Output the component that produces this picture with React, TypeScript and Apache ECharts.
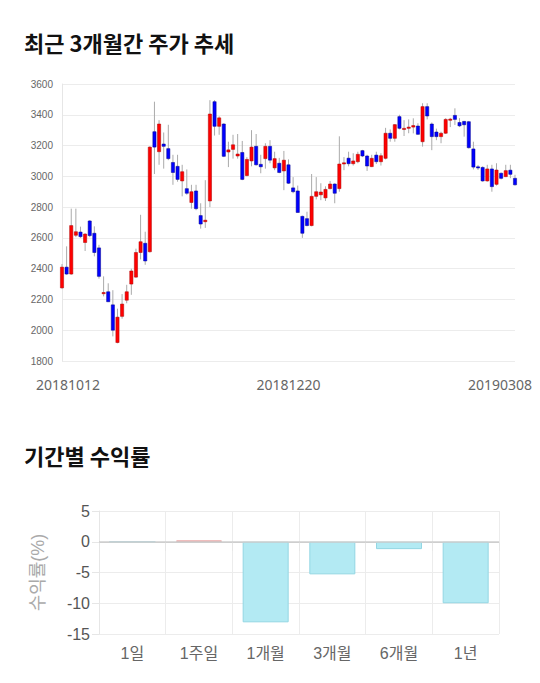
import React, { useEffect, useRef } from "react";
import * as echarts from "echarts";

const dates: string[] = [
  "20181012","20181015","20181016","20181017","20181018","20181019","20181022","20181023","20181024","20181025","20181026","20181029","20181030","20181031",
  "20181101","20181102","20181105","20181106","20181107","20181108","20181109","20181112","20181113","20181114","20181115","20181116","20181119","20181120","20181121","20181122","20181123","20181126","20181127","20181128","20181129","20181130",
  "20181203","20181204","20181205","20181206","20181207","20181210","20181211","20181212","20181213","20181214","20181217","20181218","20181219","20181220","20181221","20181224","20181226","20181227","20181228",
  "20190102","20190103","20190104","20190107","20190108","20190109","20190110","20190111","20190114","20190115","20190116","20190117","20190118","20190121","20190122","20190123","20190124","20190125","20190128","20190129","20190130","20190131",
  "20190201","20190207","20190208","20190211","20190212","20190213","20190214","20190215","20190218","20190219","20190220","20190221","20190222","20190225","20190226","20190227","20190228",
  "20190304","20190305","20190306","20190307","20190308",
];

const shownDates: string[] = ["20181012", "20181220", "20190308"];

// [open, close, low, high]
const ohlc: number[][] = [
  [2275,2410,2270,2430],[2410,2365,2360,2545],[2365,2680,2360,2790],[2617,2640,2605,2790],[2638,2608,2600,2673],
  [2570,2625,2515,2630],[2710,2615,2605,2715],[2630,2505,2480,2675],[2535,2350,2335,2555],[2240,2245,2220,2350],
  [2250,2185,2185,2305],[2165,2000,1960,2260],[1920,2085,1915,2140],[2090,2170,2075,2235],[2195,2250,2175,2295],
  [2300,2385,2230,2400],[2345,2505,2340,2530],[2505,2575,2460,2750],[2565,2450,2425,2640],[2510,3190,2505,3195],
  [3290,3190,3015,3485],[3160,3340,3075,3365],[3210,3195,3050,3285],[3180,3115,3105,3335],[3090,3025,2945,3140],
  [3065,2980,2965,3140],[2970,3030,2870,3075],[2920,2890,2880,3045],[2830,2900,2790,2945],[2905,2790,2780,2945],
  [2745,2690,2660,2825],[2705,2715,2665,2975],[2840,3405,2800,3495],[3485,3325,3265,3495],[3325,3380,3270,3390],
  [3340,3130,3125,3345],[3158,3172,3060,3225],[3175,3205,3115,3270],[3132,3145,3115,3275],[3155,2980,2975,3230],
  [3005,3110,3000,3125],[3100,3190,3065,3300],[3195,3075,3070,3275],[3078,3062,3020,3140],[3115,3195,3050,3215],
  [3195,3105,3085,3235],[3055,3115,3040,3160],[3085,3025,3020,3120],[3035,3105,2910,3165],[3075,2955,2950,3110],
  [2925,2900,2890,2995],[2905,2765,2765,2940],[2740,2630,2600,2745],[2725,2680,2675,2770],[2680,2870,2675,3015],
  [2870,2900,2850,2995],[2880,2898,2845,2955],[2860,2915,2840,2935],[2920,2950,2915,2970],[2950,2890,2825,2955],
  [2920,3080,2900,3260],[3080,3088,3040,3125],[3118,3082,3065,3160],[3082,3100,3070,3150],[3095,3143,3085,3160],
  [3167,3132,3125,3172],[3132,3067,3035,3140],[3063,3117,3060,3140],[3138,3095,3080,3160],[3095,3134,3070,3150],
  [3117,3280,3110,3315],[3280,3247,3225,3305],[3247,3336,3225,3340],[3388,3312,3305,3400],[3305,3312,3262,3365],
  [3312,3320,3280,3370],[3320,3330,3279,3377],[3327,3273,3270,3345],[3225,3453,3193,3475],[3453,3392,3370,3475],
  [3340,3258,3170,3350],[3288,3258,3235,3310],[3258,3280,3215,3290],[3280,3370,3275,3378],[3365,3372,3320,3380],
  [3396,3370,3334,3442],[3350,3328,3320,3378],[3357,3335,3258,3360],[3355,3186,3180,3360],[3178,3060,3045,3225],
  [3062,3056,3041,3074],[3058,2970,2965,3065],[2970,3048,2965,3075],[3048,2933,2900,3075],[2948,3041,2940,3085],
  [3020,2987,2980,3025],[2998,3037,2995,3075],[3040,3013,2988,3075],[2987,2945,2940,3010],
];

const periods: string[] = ["1일", "1주일", "1개월", "3개월", "6개월", "1년"];
const returns: number[] = [0, 0.2, -13.1, -5.3, -1.2, -10.0];

const LATIN = "'Liberation Sans', Arial, 'Noto Sans CJK KR', sans-serif";
const KR = "'Noto Sans CJK KR', 'Noto Sans', sans-serif";

export default function App() {
  const ref = useRef<HTMLDivElement>(null);

  useEffect(() => {
    document.body.style.margin = "0";
    if (!ref.current) return;
    const chart = echarts.init(ref.current, undefined, { renderer: "svg" });

    const candleData = ohlc.map((d, i) => [i, d[0], d[1], d[2], d[3]]);

    const option: any = {
      animation: false,
      backgroundColor: "#fff",
      title: [
        {
          text: "최근 3개월간 주가 추세",
          left: 24,
          top: 31,
          padding: 0,
          textStyle: { fontSize: 22, fontWeight: "bold", color: "#111", fontFamily: KR },
        },
        {
          text: "기간별 수익률",
          left: 24,
          top: 444,
          padding: 0,
          textStyle: { fontSize: 22, fontWeight: "bold", color: "#111", fontFamily: KR },
        },
      ],
      grid: [
        { left: 62, right: 25, top: 84, height: 277 },
        { left: 99, right: 41, top: 511, height: 123 },
      ],
      xAxis: [
        {
          type: "category",
          gridIndex: 0,
          data: dates,
          boundaryGap: false,
          axisLine: { show: false },
          axisTick: { show: false },
          splitLine: { show: false },
          axisLabel: {
            interval: (idx: number, val: string) => shownDates.indexOf(val) >= 0,
            margin: 16,
            formatter: (val: string, idx: number) => {
              if (idx === 0) return "{first|" + val + "}";
              if (idx === dates.length - 1) return "{last|" + val + "}";
              return "{mid|" + val + "}";
            },
            rich: {
              first: { fontSize: 14, color: "#666", fontFamily: "'Noto Sans', sans-serif", padding: [0, 0, 0, 12] },
              mid: { fontSize: 14, color: "#666", fontFamily: "'Noto Sans', sans-serif" },
              last: { fontSize: 14, color: "#666", fontFamily: "'Noto Sans', sans-serif", padding: [0, 30, 0, 0] },
            },
          },
        },
        {
          type: "category",
          gridIndex: 1,
          data: periods,
          boundaryGap: true,
          axisLine: { show: true, lineStyle: { color: "#ccc" } },
          axisTick: { show: true, length: 9, lineStyle: { color: "#e6e6e6" } },
          splitLine: { show: true, lineStyle: { color: "#ececec" } },
          axisLabel: { fontSize: 16, color: "#666", margin: 11, fontFamily: LATIN },
        },
      ],
      yAxis: [
        {
          type: "value",
          gridIndex: 0,
          min: 1800,
          max: 3600,
          interval: 200,
          axisLine: { show: true, lineStyle: { color: "#e6e6e6" } },
          axisTick: { show: false },
          splitLine: { show: true, lineStyle: { color: "#ececec" } },
          axisLabel: {
            fontSize: 10,
            color: "#666",
            margin: 9,
            fontFamily: LATIN,
            formatter: (v: number) => String(v),
          },
        },
        {
          type: "value",
          gridIndex: 1,
          min: -15,
          max: 5,
          interval: 5,
          name: "수익률(%)",
          nameLocation: "middle",
          nameGap: 52,
          nameTextStyle: { fontSize: 18, color: "#aaa", fontFamily: LATIN },
          axisLine: { show: true, lineStyle: { color: "#e6e6e6" } },
          axisTick: { show: true, length: 7, lineStyle: { color: "#e6e6e6" } },
          splitLine: { show: true, lineStyle: { color: "#ececec" } },
          axisLabel: { fontSize: 16, color: "#555", margin: 9, fontFamily: LATIN },
        },
      ],
      series: [
        {
          type: "custom",
          xAxisIndex: 0,
          yAxisIndex: 0,
          data: candleData,
          encode: { x: 0, y: [1, 2, 3, 4] },
          renderItem: (params: any, api: any) => {
            const idx = api.value(0);
            const o = api.value(1);
            const c = api.value(2);
            const l = api.value(3);
            const h = api.value(4);
            const pO = api.coord([idx, o]);
            const pC = api.coord([idx, c]);
            const pL = api.coord([idx, l]);
            const pH = api.coord([idx, h]);
            const up = c >= o;
            const w = 3.2;
            const top = Math.min(pO[1], pC[1]);
            const hgt = Math.max(1.2, Math.abs(pO[1] - pC[1]));
            return {
              type: "group",
              children: [
                {
                  type: "line",
                  shape: { x1: pH[0], y1: pH[1], x2: pL[0], y2: pL[1] },
                  style: { stroke: "#aaa", lineWidth: 1 },
                },
                {
                  type: "rect",
                  shape: { x: pO[0] - w / 2, y: top, width: w, height: hgt },
                  style: {
                    fill: up ? "#ff0000" : "#0000ff",
                    stroke: up ? "#a00" : "#00008a",
                    lineWidth: 0.5,
                  },
                },
              ],
            };
          },
        },
        {
          type: "bar",
          xAxisIndex: 1,
          yAxisIndex: 1,
          barWidth: 46,
          data: returns.map((v) => ({
            value: v,
            itemStyle:
              v > 0
                ? { color: "#f3a7a7", borderColor: "#e59393", borderWidth: 1 }
                : { color: "#b3eaf3", borderColor: "#93d6e3", borderWidth: 1 },
          })),
          markLine: {
            silent: true,
            symbol: "none",
            label: { show: false },
            lineStyle: { color: "#cfcfcf", width: 1.5, type: "solid" },
            data: [{ yAxis: 0 }],
          },
        },
      ],
    };

    chart.setOption(option);
    return () => chart.dispose();
  }, []);

  return <div ref={ref} style={{ width: 540, height: 683 }} />;
}
